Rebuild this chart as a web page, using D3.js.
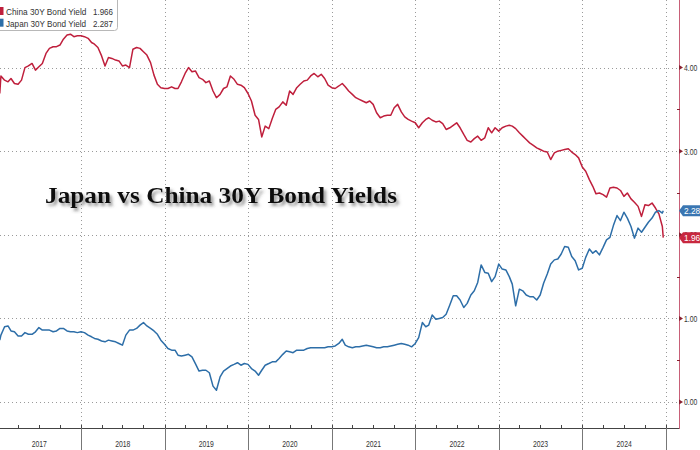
<!DOCTYPE html>
<html>
<head>
<meta charset="utf-8">
<script src="https://cdn.jsdelivr.net/npm/d3@7"></script>
<style>
  html, body { margin: 0; padding: 0; background: #fff; }
  svg { display: block; }
</style>
</head>
<body>
<svg id="chart" width="700" height="450"></svg>
<script>
// ---------- DATA ----------
const dates = [
  "2017-01-11","2017-01-16","2017-02-01","2017-02-16","2017-03-01","2017-03-16","2017-04-01","2017-04-16","2017-05-01","2017-05-16","2017-06-01","2017-06-16","2017-07-01","2017-07-16","2017-08-01","2017-08-16","2017-09-01","2017-09-16","2017-10-01","2017-10-16","2017-11-01","2017-11-16","2017-12-01","2017-12-16",
  "2018-01-01","2018-01-16","2018-02-01","2018-02-16","2018-03-01","2018-03-16","2018-04-01","2018-04-16","2018-05-01","2018-05-16","2018-06-01","2018-06-16","2018-07-01","2018-07-16","2018-08-01","2018-08-16","2018-09-01","2018-09-16","2018-10-01","2018-10-16","2018-11-01","2018-11-16","2018-12-01","2018-12-16",
  "2019-01-01","2019-01-16","2019-02-01","2019-02-16","2019-03-01","2019-03-16","2019-04-01","2019-04-16","2019-05-01","2019-05-16","2019-06-01","2019-06-16","2019-07-01","2019-07-16","2019-08-01","2019-08-16","2019-09-01","2019-09-16","2019-10-01","2019-10-16","2019-11-01","2019-11-16","2019-12-01","2019-12-16",
  "2020-01-01","2020-01-16","2020-02-01","2020-02-16","2020-03-01","2020-03-16","2020-04-01","2020-04-16","2020-05-01","2020-05-16","2020-06-01","2020-06-16","2020-07-01","2020-07-16","2020-08-01","2020-08-16","2020-09-01","2020-09-16","2020-10-01","2020-10-16","2020-11-01","2020-11-16","2020-12-01","2020-12-16",
  "2021-01-01","2021-01-16","2021-02-01","2021-02-16","2021-03-01","2021-03-16","2021-04-01","2021-04-16","2021-05-01","2021-05-16","2021-06-01","2021-06-16","2021-07-01","2021-07-16","2021-08-01","2021-08-16","2021-09-01","2021-09-16","2021-10-01","2021-10-16","2021-11-01","2021-11-16","2021-12-01","2021-12-16",
  "2022-01-01","2022-01-16","2022-02-01","2022-02-16","2022-03-01","2022-03-16","2022-04-01","2022-04-16","2022-05-01","2022-05-16","2022-06-01","2022-06-16","2022-07-01","2022-07-16","2022-08-01","2022-08-16","2022-09-01","2022-09-16","2022-10-01","2022-10-16","2022-11-01","2022-11-16","2022-12-01","2022-12-16",
  "2023-01-01","2023-01-16","2023-02-01","2023-02-16","2023-03-01","2023-03-16","2023-04-01","2023-04-16","2023-05-01","2023-05-16","2023-06-01","2023-06-16","2023-07-01","2023-07-16","2023-08-01","2023-08-16","2023-09-01","2023-09-16","2023-10-01","2023-10-16","2023-11-01","2023-11-16","2023-12-01","2023-12-16",
  "2024-01-01","2024-01-16","2024-02-01","2024-02-16","2024-03-01","2024-03-16","2024-04-01","2024-04-16","2024-05-01","2024-05-16","2024-06-01","2024-06-16","2024-07-01","2024-07-16","2024-08-01","2024-08-16","2024-09-01","2024-09-16","2024-10-01","2024-10-16","2024-11-01","2024-11-16","2024-12-01","2024-12-16",
  "2024-12-20"
];

const china = [
  3.69,3.90,3.85,3.83,3.87,3.81,3.80,3.85,4.00,4.02,4.05,3.97,4.01,4.05,4.17,4.23,4.25,4.25,4.27,4.34,4.39,4.40,4.37,4.38,
  4.38,4.37,4.35,4.30,4.28,4.24,4.14,4.02,4.12,4.11,4.09,4.08,4.02,4.03,4.00,4.22,4.24,4.23,4.19,4.15,4.06,3.91,3.80,3.76,
  3.75,3.75,3.77,3.75,3.75,3.83,3.93,4.00,3.95,3.96,3.88,3.86,3.82,3.84,3.72,3.64,3.68,3.75,3.77,3.90,3.86,3.80,3.79,3.76,
  3.69,3.60,3.43,3.38,3.17,3.30,3.27,3.39,3.50,3.53,3.59,3.55,3.72,3.68,3.76,3.80,3.84,3.85,3.90,3.93,3.89,3.92,3.87,3.79,
  3.76,3.75,3.78,3.81,3.77,3.72,3.68,3.64,3.62,3.60,3.58,3.60,3.56,3.46,3.40,3.42,3.43,3.43,3.52,3.56,3.47,3.41,3.38,3.36,
  3.34,3.28,3.34,3.38,3.40,3.37,3.35,3.36,3.33,3.26,3.28,3.31,3.34,3.28,3.20,3.13,3.11,3.15,3.18,3.13,3.16,3.28,3.22,3.28,
  3.24,3.28,3.30,3.31,3.30,3.27,3.22,3.18,3.14,3.10,3.07,3.04,3.02,3.00,2.99,2.90,2.98,3.00,3.01,3.02,3.03,2.99,2.96,2.92,
  2.81,2.76,2.66,2.58,2.49,2.50,2.48,2.45,2.56,2.57,2.56,2.53,2.46,2.50,2.43,2.39,2.34,2.22,2.36,2.35,2.38,2.32,2.25,2.10,
  1.966
];

const japan = [
  0.74,0.80,0.90,0.91,0.85,0.84,0.79,0.79,0.83,0.81,0.81,0.84,0.89,0.86,0.86,0.86,0.84,0.85,0.88,0.88,0.85,0.84,0.84,0.83,
  0.84,0.83,0.80,0.78,0.76,0.75,0.73,0.72,0.74,0.73,0.72,0.70,0.68,0.80,0.86,0.86,0.88,0.92,0.95,0.91,0.88,0.85,0.81,0.74,
  0.69,0.64,0.62,0.62,0.56,0.55,0.56,0.57,0.54,0.46,0.37,0.38,0.38,0.35,0.19,0.14,0.30,0.37,0.40,0.43,0.45,0.47,0.44,0.46,
  0.45,0.40,0.37,0.32,0.38,0.44,0.46,0.48,0.48,0.52,0.57,0.61,0.60,0.59,0.62,0.62,0.62,0.64,0.65,0.65,0.65,0.65,0.65,0.66,
  0.66,0.67,0.70,0.75,0.68,0.66,0.65,0.66,0.66,0.67,0.68,0.67,0.66,0.65,0.65,0.66,0.66,0.67,0.68,0.69,0.70,0.69,0.68,0.66,
  0.70,0.77,0.95,0.90,0.92,1.04,0.99,1.00,1.01,1.05,1.16,1.27,1.27,1.22,1.13,1.18,1.28,1.33,1.43,1.64,1.55,1.54,1.44,1.50,
  1.65,1.59,1.58,1.50,1.41,1.15,1.35,1.33,1.28,1.26,1.26,1.22,1.28,1.42,1.53,1.65,1.70,1.71,1.77,1.86,1.85,1.74,1.69,1.58,
  1.60,1.73,1.83,1.78,1.81,1.76,1.85,1.94,1.97,2.11,2.23,2.17,2.27,2.20,2.10,1.96,2.08,2.03,2.09,2.15,2.20,2.27,2.29,2.26,
  2.287
];

const yTicks = [0, 1, 2, 3, 4];
const yMinorTicks = [0.5, 1.5, 2.5, 3.5];
const yearLabels = ["2017","2018","2019","2020","2021","2022","2023","2024"];
const yearBounds = ["2018","2019","2020","2021","2022","2023","2024","2025"];
const seriesNames = ["China 30Y Bond Yield", "Japan 30Y Bond Yield"];
const lastValues = ["1.966", "2.287"];
const titleText = "Japan vs China 30Y Bond Yields";

// ---------- DRAW ----------
const svg = d3.select("#chart");
const W = 700, H = 450;
const axisX = 679, axisY = 428;
const parse = d3.timeParse("%Y-%m-%d");
const parseY = d3.timeParse("%Y");
const sans = "'Liberation Sans', Arial, sans-serif";

const x = d3.scaleTime()
  .domain([parseY("2018"), parseY("2025")])
  .range([81, 666]);
const y = d3.scaleLinear().domain([0, 4]).range([402, 67.6]);

const red = "#bf1f3c", blue = "#2d6ea8";

// condensed text helper (horizontal squeeze via transform)
function ctext(parent, tx, ty, str, size, fill, sx, anchor) {
  return parent.append("text")
    .attr("transform", `translate(${tx},${ty}) scale(${sx},1)`)
    .attr("font-family", sans).attr("font-size", size).attr("fill", fill)
    .attr("text-anchor", anchor || "start")
    .text(str);
}

const defs = svg.append("defs");
const f = defs.append("filter").attr("id", "shadow").attr("x", "-10%").attr("y", "-40%").attr("width", "130%").attr("height", "200%");
f.append("feDropShadow").attr("dx", 2.5).attr("dy", 3).attr("stdDeviation", 1.8)
  .attr("flood-color", "#444").attr("flood-opacity", 0.55);
defs.append("clipPath").attr("id", "plotclip").append("rect")
  .attr("x", 0).attr("y", 0).attr("width", axisX).attr("height", axisY);

// grid
const grid = svg.append("g");
grid.selectAll("line.h").data(yTicks).join("line")
  .attr("x1", 0).attr("x2", axisX)
  .attr("y1", d => Math.round(y(d)) + 0.5).attr("y2", d => Math.round(y(d)) + 0.5)
  .attr("stroke", "#9a9a9a").attr("stroke-width", 1).attr("stroke-dasharray", "1,3");
grid.selectAll("line.v").data(yearBounds).join("line")
  .attr("x1", d => Math.round(x(parseY(d))) + 0.5).attr("x2", d => Math.round(x(parseY(d))) + 0.5)
  .attr("y1", 0).attr("y2", axisY)
  .attr("stroke", "#9a9a9a").attr("stroke-width", 1).attr("stroke-dasharray", "1,3");

// lines
const chinaData = dates.map((d, i) => ({ date: parse(d), v: china[i] }));
const japanData = dates.map((d, i) => ({ date: parse(d), v: japan[i] }));
const line = d3.line().x(d => x(d.date)).y(d => y(d.v));
const plot = svg.append("g").attr("clip-path", "url(#plotclip)");
plot.append("path").datum(chinaData).attr("d", line)
  .attr("fill", "none").attr("stroke", red).attr("stroke-width", 1.5).attr("stroke-linejoin", "round");
plot.append("path").datum(japanData).attr("d", line)
  .attr("fill", "none").attr("stroke", blue).attr("stroke-width", 1.5).attr("stroke-linejoin", "round");

// bottom axis
svg.append("line").attr("x1", 0).attr("x2", axisX + 0.5).attr("y1", axisY + 0.5).attr("y2", axisY + 0.5)
  .attr("stroke", "#444").attr("stroke-width", 1);
const quarters = d3.timeMonth.every(3).range(parse("2017-01-01"), parse("2025-01-02"));
svg.append("g").selectAll("line").data(quarters).join("line")
  .attr("x1", d => Math.round(x(d)) + 0.5).attr("x2", d => Math.round(x(d)) + 0.5)
  .attr("y1", axisY - 3).attr("y2", axisY)
  .attr("stroke", "#444");
svg.append("g").selectAll("line").data(yearBounds).join("line")
  .attr("x1", d => Math.round(x(parseY(d))) + 0.5).attr("x2", d => Math.round(x(parseY(d))) + 0.5)
  .attr("y1", axisY).attr("y2", H)
  .attr("stroke", "#777").attr("stroke-width", 1);
const yearG = svg.append("g");
yearLabels.forEach(d => {
  const cx = (x(parseY(d)) + x(parseY(String(+d + 1)))) / 2;
  ctext(yearG, cx, 447, d, 9.5, "#333", 0.72, "middle");
});

// right axis
svg.append("line").attr("x1", axisX + 0.5).attr("x2", axisX + 0.5).attr("y1", 0).attr("y2", axisY + 1)
  .attr("stroke", "#c86078").attr("stroke-width", 1);
const rt = svg.append("g");
rt.selectAll("path.tri").data(yTicks).join("path")
  .attr("d", d => { const yy = y(d); return `M${axisX},${yy - 2.5}L${axisX + 4},${yy}L${axisX},${yy + 2.5}Z`; })
  .attr("fill", "#8a2030");
rt.selectAll("line.minor").data(yMinorTicks).join("line")
  .attr("x1", axisX - 2).attr("x2", axisX + 1)
  .attr("y1", d => Math.round(y(d)) + 0.5).attr("y2", d => Math.round(y(d)) + 0.5)
  .attr("stroke", "#8a2030");
yTicks.forEach(d => {
  ctext(rt, axisX + 5, y(d) + 3.3, d3.format(".2f")(d), 9, "#333", 0.76);
});

// end labels
function endLabel(val, color) {
  const yy = y(+val);
  const g = svg.append("g");
  g.append("path")
    .attr("d", `M${axisX},${yy}L${axisX + 4},${yy - 5.5}L${W + 5},${yy - 5.5}L${W + 5},${yy + 5.5}L${axisX + 4},${yy + 5.5}Z`)
    .attr("fill", color);
  ctext(g, axisX + 5, yy + 3.5, val, 9.5, "#fff", 0.88);
}
endLabel(lastValues[1], "#3a76b2");
endLabel(lastValues[0], "#c8283f");

// title
svg.append("text").attr("x", 45).attr("y", 203)
  .attr("font-family", "Liberation Serif, 'Times New Roman', serif")
  .attr("font-weight", "bold").attr("font-size", 24).attr("fill", "#111")
  .attr("textLength", 352).attr("lengthAdjust", "spacingAndGlyphs")
  .attr("filter", "url(#shadow)")
  .text(titleText);

// legend
const lg = svg.append("g");
lg.append("rect").attr("x", -3).attr("y", -3).attr("width", 120.5).attr("height", 33.5).attr("rx", 3)
  .attr("fill", "#fff").attr("stroke", "#b8b8b8");
const colors = [red, blue];
seriesNames.forEach((name, i) => {
  const by = 15 + i * 11.7;
  lg.append("rect").attr("x", 0).attr("y", by - 8).attr("width", 3.5).attr("height", 8).attr("fill", colors[i]);
  ctext(lg, 6, by, name, 9.5, "#333", i === 0 ? 0.872 : 0.86);
  ctext(lg, 93, by, lastValues[i], 9.5, "#333", 0.84);
});
</script>
</body>
</html>
